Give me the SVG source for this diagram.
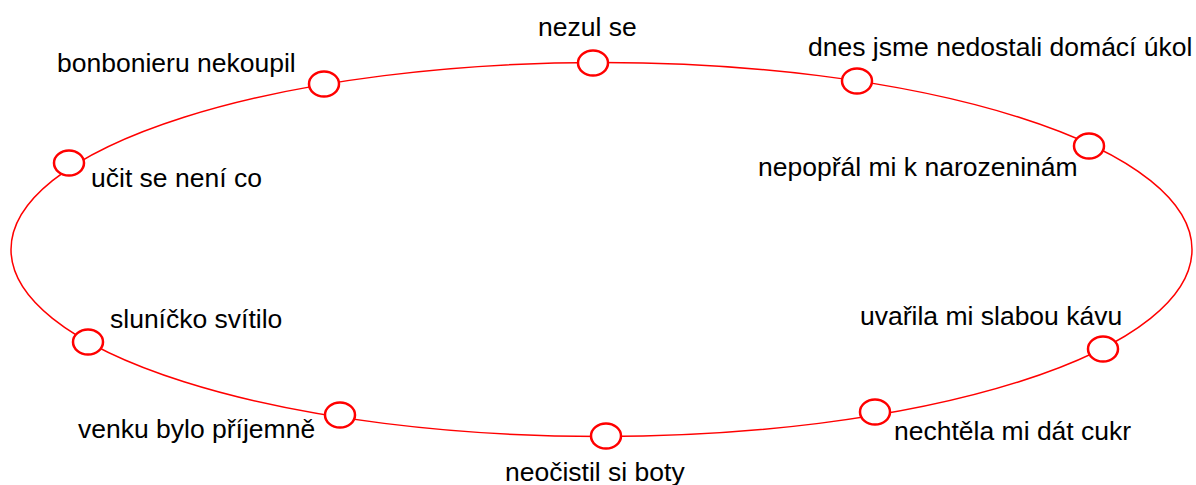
<svg xmlns="http://www.w3.org/2000/svg" width="1196" height="485" viewBox="0 0 1196 485">
<style>
.ring{fill:none;stroke:#ff0000;stroke-width:1.5}
.node{fill:#ffffff;stroke:#ff0000;stroke-width:2.5}
.lbl{font-family:"Liberation Sans",Arial,sans-serif;font-size:26.5px;fill:#000000}
</style>
<rect width="1196" height="485" fill="#ffffff"/>
<g id="connectors">
<ellipse class="ring" cx="601.5" cy="249.5" rx="590.5" ry="187"/>
</g>
<g id="n1"><ellipse class="node" cx="593" cy="63" rx="15" ry="12.5"/><text class="lbl" x="538" y="36">nezul se</text></g>
<g id="n2"><ellipse class="node" cx="857" cy="81" rx="15" ry="12.5"/><text class="lbl" x="808" y="56">dnes jsme nedostali domácí úkol</text></g>
<g id="n3"><ellipse class="node" cx="1089" cy="146" rx="15" ry="12.5"/><text class="lbl" x="758" y="176">nepopřál mi k narozeninám</text></g>
<g id="n4"><ellipse class="node" cx="1103" cy="349" rx="15" ry="12.5"/><text class="lbl" x="860" y="325">uvařila mi slabou kávu</text></g>
<g id="n5"><ellipse class="node" cx="875" cy="412" rx="15" ry="12.5"/><text class="lbl" x="894" y="440">nechtěla mi dát cukr</text></g>
<g id="n6"><ellipse class="node" cx="606" cy="436" rx="15" ry="12.5"/><text class="lbl" x="505" y="481">neočistil si boty</text></g>
<g id="n7"><ellipse class="node" cx="340" cy="415" rx="15" ry="12.5"/><text class="lbl" x="78" y="438">venku bylo příjemně</text></g>
<g id="n8"><ellipse class="node" cx="88" cy="342" rx="15" ry="12.5"/><text class="lbl" x="110" y="328">sluníčko svítilo</text></g>
<g id="n9"><ellipse class="node" cx="69" cy="163" rx="15" ry="12.5"/><text class="lbl" x="91" y="187">učit se není co</text></g>
<g id="n10"><ellipse class="node" cx="324" cy="84" rx="15" ry="12.5"/><text class="lbl" x="57" y="72">bonbonieru nekoupil</text></g>
</svg>
